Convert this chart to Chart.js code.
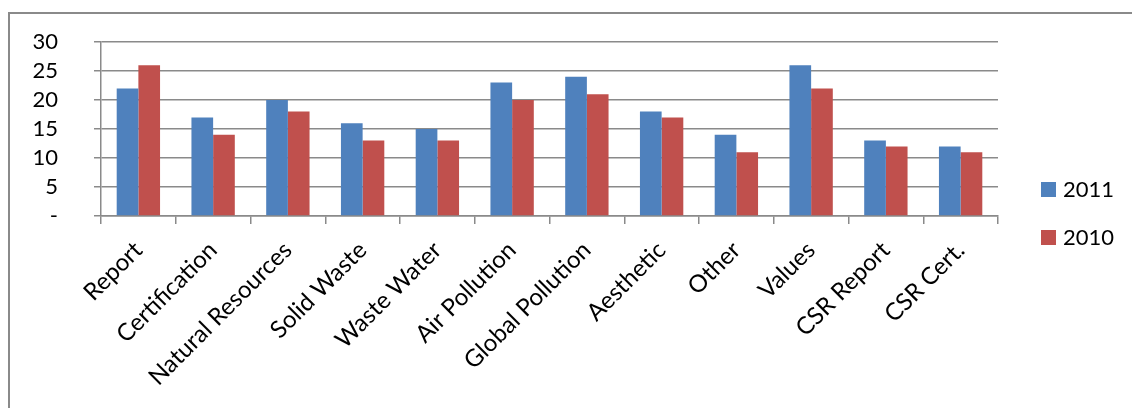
<!DOCTYPE html>
<html>
<head>
<meta charset="utf-8">
<script src="https://cdn.jsdelivr.net/npm/chart.js@4/dist/chart.umd.min.js"></script>
<style>
  html, body { margin: 0; padding: 0; background: #fff; }
  #wrap { width: 1132px; height: 408px; position: relative; }
</style>
</head>
<body>
<div id="wrap"><canvas id="chart"></canvas></div>
<script>
const categories = ['Report', 'Certification', 'Natural Resources', 'Solid Waste', 'Waste Water',
    'Air Pollution', 'Global Pollution', 'Aesthetic', 'Other', 'Values', 'CSR Report', 'CSR Cert.'];
const values2011 = [22, 17, 20, 16, 15, 23, 24, 18, 14, 26, 13, 12];
const values2010 = [26, 14, 18, 13, 13, 20, 21, 17, 11, 22, 12, 11];
const yTicks = [0, 5, 10, 15, 20, 25, 30];

const gridGrey = '#8a8a8a';
const font = "Lato, 'Open Sans', sans-serif";

// outer frame + legend drawn by hand
const framePlugin = {
    id: 'frame',
    beforeDraw(chart) {
        const ctx = chart.ctx;
        ctx.save();
        ctx.strokeStyle = gridGrey;
        ctx.lineWidth = 2;
        ctx.beginPath();
        ctx.moveTo(9, 408);
        ctx.lineTo(9, 13);
        ctx.lineTo(1132, 13);
        ctx.stroke();
        ctx.restore();
    },
    afterDraw(chart) {
        const ctx = chart.ctx;
        ctx.save();
        ctx.font = '22px ' + font;
        ctx.textBaseline = 'middle';
        chart.data.datasets.forEach((ds, i) => {
            const y = 189 + i * 48;
            ctx.fillStyle = ds.backgroundColor;
            ctx.fillRect(1041, y - 7, 15, 15);
            ctx.fillStyle = '#000';
            ctx.fillText(ds.label, 1063, y + 1);
        });
        ctx.restore();
    }
};

const ctx = document.getElementById('chart').getContext('2d');
const chart = new Chart(ctx, {
    type: 'bar',
    data: {
        labels: categories,
        datasets: [{
            label: '2011',
            data: values2011,
            backgroundColor: '#4F81BD'
        }, {
            label: '2010',
            data: values2010,
            backgroundColor: '#C0504D'
        }]
    },
    options: {
        responsive: true,
        maintainAspectRatio: false,
        animation: false,
        datasets: {
            bar: {
                categoryPercentage: 0.58,
                barPercentage: 1.0
            }
        },
        layout: {
            padding: { left: 10, right: 134, top: 42, bottom: 0 }
        },
        scales: {
            x: {
                afterFit: s => { s.height = 192; },
                grid: {
                    drawOnChartArea: false,
                    drawTicks: true,
                    tickLength: 8,
                    color: gridGrey,
                    lineWidth: 1.5
                },
                border: { color: gridGrey, width: 1.5 },
                ticks: {
                    maxRotation: 45,
                    minRotation: 45,
                    autoSkip: false,
                    color: '#000',
                    padding: 12,
                    font: { family: font, size: 24 }
                }
            },
            y: {
                min: 0,
                max: 30,
                // fixed width; the big tick padding must not push the plot top down
                afterFit: s => { s.width = 91; s.paddingTop = 0; s.paddingBottom = 0; },
                afterBuildTicks: s => { s.ticks = yTicks.map(v => ({ value: v })); },
                grid: {
                    color: gridGrey,
                    lineWidth: 1.5,
                    tickLength: 7
                },
                border: { color: gridGrey, width: 1.5 },
                ticks: {
                    autoSkip: false,
                    color: '#000',
                    padding: 36,
                    font: { family: font, size: 22 },
                    callback: v => v === 0 ? '-' : v
                }
            }
        },
        plugins: {
            legend: { display: false },
            tooltip: { enabled: false }
        }
    },
    plugins: [framePlugin]
});
</script>
</body>
</html>
